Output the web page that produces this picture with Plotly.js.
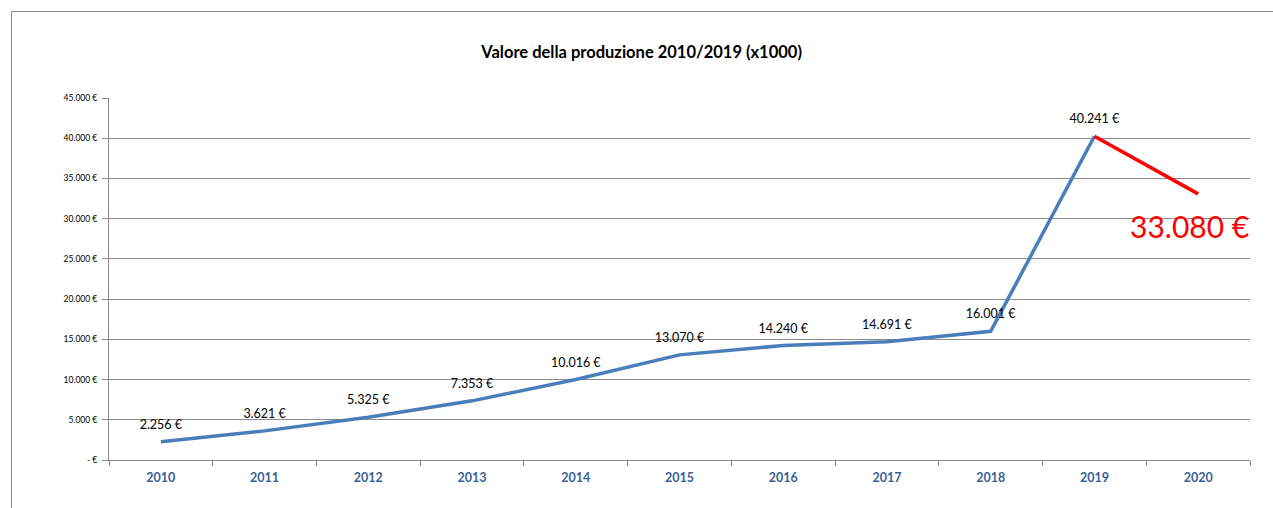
<!DOCTYPE html>
<html>
<head>
<meta charset="utf-8">
<script src="https://cdn.plot.ly/plotly-3.0.1.min.js"></script>
<style>
  html, body { margin: 0; padding: 0; background: #fff; }
  #frame { position: absolute; left: 11px; top: 11px; width: 1262px; height: 497px;
           border-left: 1px solid #8c8c8c; border-top: 1px solid #8c8c8c; pointer-events: none; }
  #chart { position: absolute; left: 0; top: 0; width: 1273px; height: 508px; }
</style>
</head>
<body>
<div id="chart"></div>
<div id="frame"></div>
<script>
const years = ["2010","2011","2012","2013","2014","2015","2016","2017","2018","2019","2020"];
const histYears = ["2010","2011","2012","2013","2014","2015","2016","2017","2018","2019"];
const histValues = [2256, 3621, 5325, 7353, 10016, 13070, 14240, 14691, 16001, 40241];
const forecastYears = ["2019","2020"];
const forecastValues = [40241, 33080];
const yTickVals = [0, 5000, 10000, 15000, 20000, 25000, 30000, 35000, 40000, 45000];
const forecastLabel = "33.080 €";

function fmtEuro(v) {
  if (v === 0) return "- €";
  const s = Math.round(v).toString().replace(/\B(?=(\d{3})+(?!\d))/g, ".");
  return s + " €";
}

const font = "Lato, 'Open Sans', sans-serif";

const traces = [
  {
    x: histYears, y: histValues, type: "scatter", mode: "lines+markers+text",
    line: { color: "#4a7ebb", width: 3.5 },
    marker: { size: 14, color: "rgba(0,0,0,0)" },
    text: histValues.map(fmtEuro), textposition: "top center",
    textfont: { family: font, size: 12.5, color: "#000" },
    hoverinfo: "skip", cliponaxis: false
  },
  {
    x: forecastYears, y: forecastValues, type: "scatter", mode: "lines",
    line: { color: "#ff0000", width: 3.5 },
    hoverinfo: "skip"
  }
];

const layout = {
  width: 1273, height: 508,
  margin: { l: 109, r: 23, t: 98, b: 48 },
  paper_bgcolor: "rgba(0,0,0,0)", plot_bgcolor: "rgba(0,0,0,0)",
  showlegend: false,
  title: {
    text: "<b>Valore della produzione 2010/2019 (x1000)</b>",
    font: { family: font, size: 16.5, color: "#000" },
    x: 0.504, xanchor: "center", y: 0.897, yanchor: "middle"
  },
  xaxis: {
    type: "category", categoryorder: "array", categoryarray: years,
    range: [-0.5, 10.5], tickson: "boundaries",
    showgrid: false, showline: true, linecolor: "#868686", linewidth: 1,
    ticks: "outside", ticklen: 5, tickcolor: "#868686",
    ticklabelstandoff: 6,
    tickfont: { family: font, size: 12.5, color: "#3a6195" },
    tickvals: years, ticktext: years.map(y => "<b>" + y + "</b>"),
    fixedrange: true
  },
  yaxis: {
    range: [0, 45000], tickvals: yTickVals, ticktext: yTickVals.map(fmtEuro),
    showgrid: true, gridcolor: "#8c8c8c", gridwidth: 1,
    showline: true, linecolor: "#868686", linewidth: 1,
    ticks: "outside", ticklen: 6, tickcolor: "#868686",
    ticklabelstandoff: 3,
    tickfont: { family: font, size: 8.5, color: "#000" },
    zeroline: false, fixedrange: true
  },
  annotations: [
    {
      x: 0.947, y: 0.646, xref: "paper", yref: "paper", text: forecastLabel,
      showarrow: false, xanchor: "center", yanchor: "middle",
      font: { family: "Lato", size: 30, color: "#ff0000" }
    }
  ]
};

Plotly.newPlot("chart", traces, layout, { displayModeBar: false, staticPlot: true });
</script>
</body>
</html>
